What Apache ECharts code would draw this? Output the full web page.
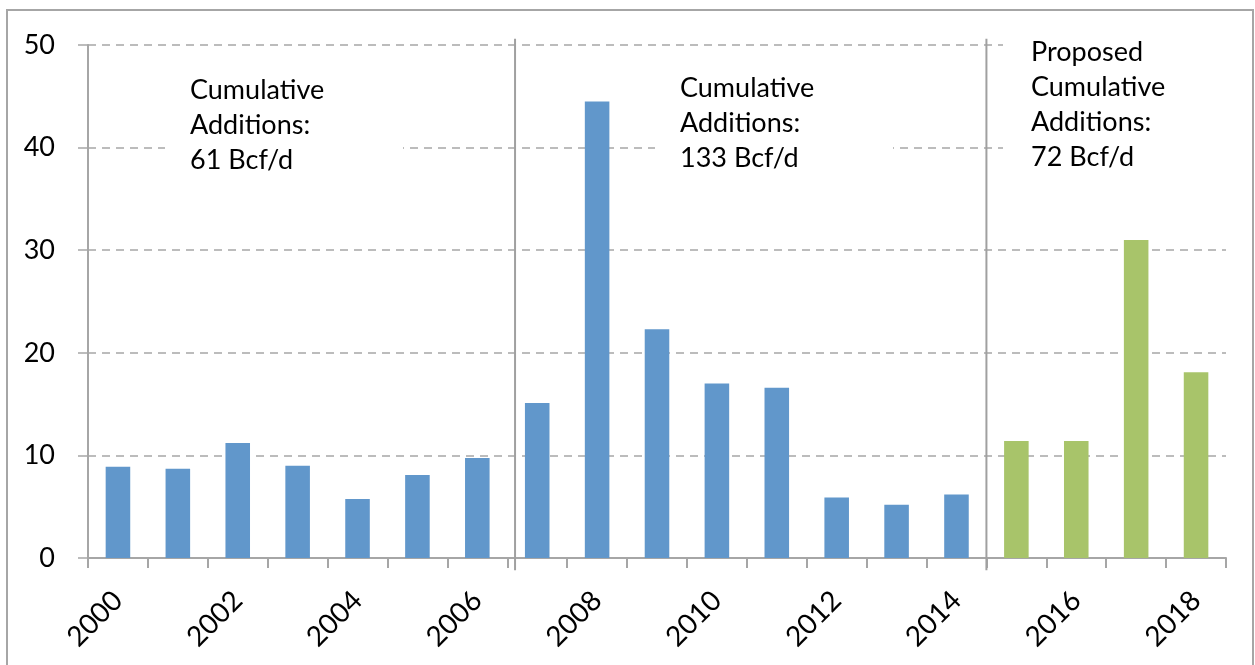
<!DOCTYPE html>
<html>
<head>
<meta charset="utf-8">
<script src="https://cdn.jsdelivr.net/npm/echarts/dist/echarts.min.js"></script>
<style>
  html, body { margin: 0; padding: 0; background: #fff; }
  #main { width: 1255px; height: 665px; }
</style>
</head>
<body>
<div id="main"></div>
<script>
// years on the x axis
const years = ['2000', '2001', '2002', '2003', '2004', '2005', '2006', '2007', '2008', '2009',
  '2010', '2011', '2012', '2013', '2014', '2015', '2016', '2017', '2018'];
// capacity additions, Bcf/d
const additions = [8.9, 8.7, 11.2, 9.0, 5.75, 8.1, 9.75, 15.1, 44.5, 22.3,
  17.0, 16.6, 5.9, 5.2, 6.2, 11.4, 11.4, 31.0, 18.1];
// index where the proposed years begin
const proposedFrom = 15;
// period separators on a 0..19 scale
const separators = [7.13, 15.0];
const yTicks = [0, 10, 20, 30, 40, 50];

const blue = '#6197cb';
const green = '#a8c46a';
const font = 'Lato, "Open Sans", sans-serif';

let myChart = echarts.init(document.getElementById('main'));

// vertical lines splitting the periods
let sepSeries = separators.map(function (x) {
  return {
    type: 'line',
    xAxisIndex: 1,
    yAxisIndex: 0,
    data: [[x, -1.2], [x, 50.6]],
    symbol: 'none',
    clip: false,
    silent: true,
    lineStyle: { color: '#a0a0a0', width: 2 },
    z: 5
  };
});

let option = {
  animation: false,
  grid: { left: 88, right: 29, top: 45, bottom: 107 },
  xAxis: [
    {
      type: 'category',
      data: years,
      axisLine: { lineStyle: { color: '#a6a6a6', width: 2 } },
      axisTick: { show: true, interval: 0, length: 10, lineStyle: { color: '#a6a6a6', width: 2 } },
      axisLabel: {
        interval: 1,
        rotate: 45,
        color: '#000',
        fontFamily: font,
        fontSize: 28,
        margin: 38
      }
    },
    {
      type: 'value',
      min: 0,
      max: 19,
      show: false
    }
  ],
  yAxis: {
    type: 'value',
    min: yTicks[0],
    max: yTicks[yTicks.length - 1],
    interval: 10,
    axisLine: { show: true, lineStyle: { color: '#a6a6a6', width: 2 } },
    axisTick: { show: true, length: 10, lineStyle: { color: '#a6a6a6', width: 1.5 } },
    axisLabel: { color: '#000', fontFamily: font, fontSize: 27, margin: 33 },
    splitLine: { lineStyle: { color: '#a6a6a6', width: 1.5, type: [8, 6] } }
  },
  series: [
    {
      type: 'bar',
      data: additions,
      barWidth: '41%',
      itemStyle: {
        color: function (p) { return p.dataIndex >= proposedFrom ? green : blue; }
      },
      z: 3
    }
  ].concat(sepSeries),
  graphic: [
    {
      type: 'rect', z: 100,
      shape: { x: 7, y: 10, width: 1246, height: 680 },
      style: { fill: 'none', stroke: '#a6a6a6', lineWidth: 2 }
    },
    { type: 'rect', z: 100, shape: { x: 165, y: 62, width: 238, height: 125 }, style: { fill: '#fff' } },
    {
      type: 'text', z: 101, x: 190, y: 73,
      style: { text: 'Cumulative\nAdditions:\n61 Bcf/d', font: '27px ' + font, lineHeight: 35, fill: '#000' }
    },
    { type: 'rect', z: 100, shape: { x: 655, y: 60, width: 238, height: 125 }, style: { fill: '#fff' } },
    {
      type: 'text', z: 101, x: 680, y: 71,
      style: { text: 'Cumulative\nAdditions:\n133 Bcf/d', font: '27px ' + font, lineHeight: 35, fill: '#000' }
    },
    { type: 'rect', z: 100, shape: { x: 1003, y: 25, width: 240, height: 160 }, style: { fill: '#fff' } },
    {
      type: 'text', z: 101, x: 1031, y: 35,
      style: { text: 'Proposed\nCumulative\nAdditions:\n72 Bcf/d', font: '27px ' + font, lineHeight: 35, fill: '#000' }
    }
  ]
};

myChart.setOption(option);
</script>
</body>
</html>
